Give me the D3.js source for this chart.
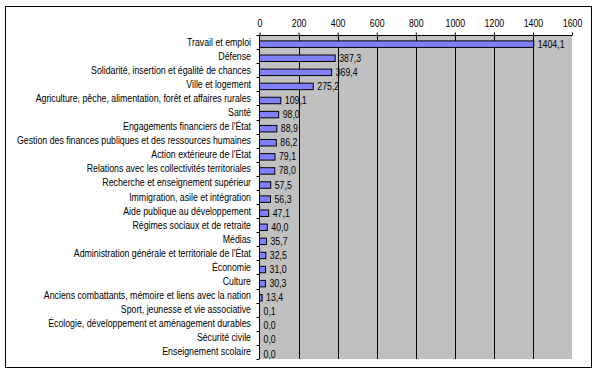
<!DOCTYPE html>
<html><head><meta charset="utf-8">
<script src="https://cdn.jsdelivr.net/npm/d3@7"></script>
<style>
html,body{margin:0;padding:0;background:#fff;}
svg text{font-family:"Liberation Sans",Arial,sans-serif;font-size:10px;fill:#000;}
</style></head>
<body><svg id="c" width="597" height="373"></svg>
<script>
const categories = [
 "Travail et emploi","Défense","Solidarité, insertion et égalité de chances","Ville et logement",
 "Agriculture, pêche, alimentation, forêt et affaires rurales","Santé","Engagements financiers de l'État",
 "Gestion des finances publiques et des ressources humaines","Action extérieure de l'État",
 "Relations avec les collectivités territoriales","Recherche et enseignement supérieur",
 "Immigration, asile et intégration","Aide publique au développement","Régimes sociaux et de retraite",
 "Médias","Administration générale et territoriale de l'État","Économie","Culture",
 "Anciens combattants, mémoire et liens avec la nation","Sport, jeunesse et vie associative",
 "Écologie, développement et aménagement durables","Sécurité civile","Enseignement scolaire"];
const values = [1404.1,387.3,369.4,275.2,109.1,98.0,88.9,86.2,79.1,78.0,57.5,56.3,47.1,40.0,35.7,32.5,31.0,30.3,13.4,0.1,0.0,0.0,0.0];
const tickValues = [0,200,400,600,800,1000,1200,1400,1600];

const svg = d3.select("#c");
svg.append("rect").attr("x",5.5).attr("y",6.5).attr("width",586).attr("height",361)
  .attr("fill","#fff").attr("stroke","#000").attr("stroke-width",1);

const pL = 259.5, pR = 572, pT = 35, pB = 359;
const x = d3.scaleLinear().domain([0,1600]).range([pL,pR]);
const y = d3.scaleBand().domain(categories).range([pT,pB]).padding(0);
const bw = y.bandwidth();

svg.append("rect").attr("x",pL).attr("y",pT).attr("width",pR-pL).attr("height",pB-pT).attr("fill","#c0c0c0");

// gridlines
svg.append("g").selectAll("line").data(tickValues.filter(t=>t>0 && t<1600)).join("line")
  .attr("x1",d=>Math.round(x(d))+0.5).attr("x2",d=>Math.round(x(d))+0.5)
  .attr("y1",pT).attr("y2",pB).attr("stroke","#000").attr("stroke-width",1);

// top axis
const ax = d3.axisTop(x).tickValues(tickValues).tickSize(3).tickFormat(d3.format("d"));
const gx = svg.append("g").attr("transform",`translate(0,${pT+0.5})`).call(ax);
gx.attr("font-family",null).attr("font-size",null);
gx.select(".domain").attr("d",`M${pL},0H${pR}`).attr("stroke","#000");
gx.selectAll(".tick line").attr("stroke","#000");
gx.selectAll(".tick text").attr("y",-9).attr("fill","#000");

// left axis line + ticks
const gy = svg.append("g");
gy.append("line").attr("x1",pL).attr("x2",pL).attr("y1",pT).attr("y2",pB).attr("stroke","#000");
const bounds = categories.map(c=>y(c)).concat([pB]);
gy.selectAll("line.t").data(bounds).join("line").attr("class","t")
  .attr("x1",pL-3).attr("x2",pL).attr("y1",d=>Math.round(d)+0.5).attr("y2",d=>Math.round(d)+0.5).attr("stroke","#000");
const catTexts = gy.selectAll("text").data(categories).join("text")
  .attr("x",251).attr("y",d=>y(d)+bw/2+3.5).attr("text-anchor","end").text(d=>d);

// bars
const fmt = v => v.toFixed(1).replace(".",",");
svg.append("g").selectAll("rect").data(values).join("rect")
  .attr("x",pL).attr("y",(d,i)=>y(categories[i])+bw*0.42)
  .attr("width",d=>Math.max(0,x(d)-pL)).attr("height",bw*0.46)
  .attr("fill","#8080ff").attr("stroke","#000").attr("stroke-width",1)
  .attr("display",d=>d>0.5?null:"none");

svg.append("g").selectAll("text").data(values).join("text")
  .attr("x",d=>x(d)+4).attr("y",(d,i)=>y(categories[i])+bw*0.65+3.5)
  .text(d=>fmt(d));

// horizontal compression to mimic the narrow bitmap font of the original
const longest = catTexts.filter(d=>d.startsWith("Gestion")).node().getComputedTextLength();
const k = 234 / longest;
svg.selectAll("text").each(function(){
  const w = this.getComputedTextLength();
  d3.select(this).attr("textLength", w*k).attr("lengthAdjust","spacingAndGlyphs");
});
</script></body></html>
